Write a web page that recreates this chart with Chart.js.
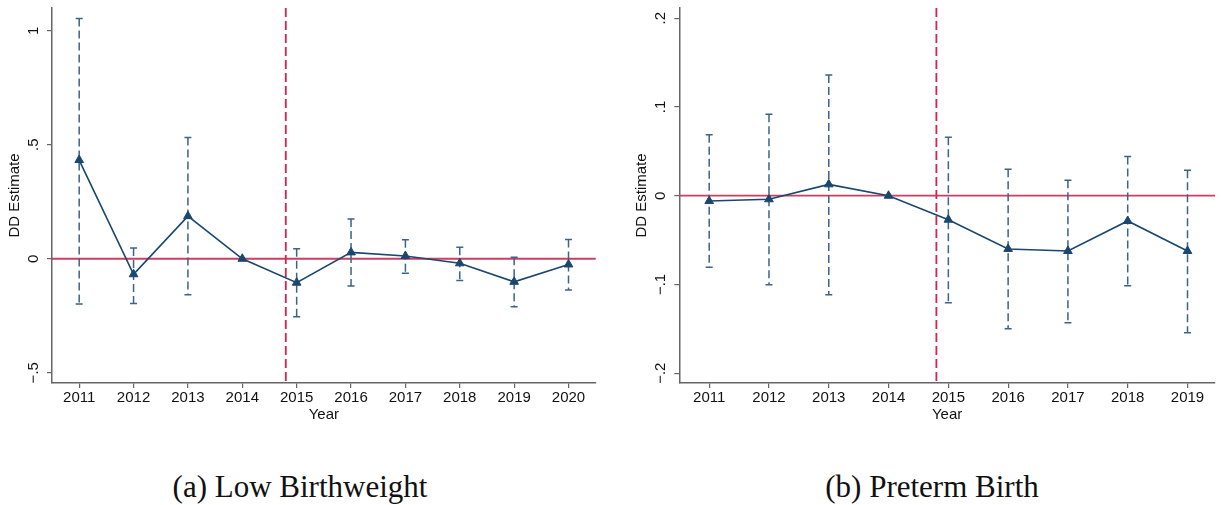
<!DOCTYPE html>
<html>
<head>
<meta charset="utf-8">
<script src="https://cdn.jsdelivr.net/npm/chart.js@4.4.1/dist/chart.umd.min.js"></script>
<style>
  body { margin: 0; background: #fff; width: 1221px; height: 505px; position: relative; overflow: hidden; }
  canvas { position: absolute; top: 0; }
  #lbw { left: 0; }
  #preterm { left: 610px; }
  .caption {
    position: absolute; top: 469px; line-height: 36px;
    font-family: "Liberation Serif", serif; font-size: 31px; color: #111;
    transform: translateX(-50%); white-space: nowrap;
  }
</style>
</head>
<body>
<canvas id="lbw" width="610" height="430"></canvas>
<canvas id="preterm" width="611" height="430"></canvas>
<div class="caption" style="left:300px">(a) Low Birthweight</div>
<div class="caption" style="left:932px">(b) Preterm Birth</div>
<script>
// event-study estimates, 2014 is the reference year (no interval)
const lbwYears = [2011, 2012, 2013, 2014, 2015, 2016, 2017, 2018, 2019, 2020];
const lbwEst = [0.433, -0.068, 0.187, 0, -0.105, 0.028, 0.012, -0.020, -0.101, -0.025];
const lbwLo  = [-0.199, -0.196, -0.158, 0, -0.254, -0.120, -0.064, -0.095, -0.210, -0.137];
const lbwHi  = [1.054, 0.047, 0.532, 0, 0.044, 0.174, 0.083, 0.050, 0.007, 0.085];
const lbwTicks = [-0.5, 0, 0.5, 1];

const ptYears = [2011, 2012, 2013, 2014, 2015, 2016, 2017, 2018, 2019];
const ptEst = [-0.006, -0.004, 0.0128, 0, -0.027, -0.060, -0.0623, -0.0285, -0.0623];
const ptLo  = [-0.0807, -0.1003, -0.1115, 0, -0.1206, -0.150, -0.143, -0.1014, -0.1544];
const ptHi  = [0.0687, 0.0917, 0.136, 0, 0.0658, 0.0297, 0.0173, 0.0443, 0.0286];
const ptTicks = [-0.2, -0.1, 0, 0.1, 0.2];

const policyYear = 2014.8;

const NAVY = '#1a476f';
const AXIS = '#666';
const FONT = '"Liberation Sans", Arial, sans-serif';

// stata-style tick text: ".5", "−.1"
function fmtTick(v) {
  if (v === 0) return '0';
  return (v < 0 ? '\u2212' : '') + String(Math.abs(v)).replace(/^0/, '');
}

function ddPlugin(years, lo, hi, ticks) {
  return {
    id: 'ddMarks',
    beforeDatasetsDraw(chart) {
      const { ctx, chartArea: a, scales: { x, y } } = chart;
      ctx.save();
      // zero line
      const y0 = y.getPixelForValue(0);
      ctx.strokeStyle = '#d03d62';
      ctx.lineWidth = 1.8;
      ctx.beginPath(); ctx.moveTo(a.left, y0); ctx.lineTo(a.right, y0); ctx.stroke();
      // policy start
      const xp = x.getPixelForValue(policyYear);
      ctx.strokeStyle = '#d4234e';
      ctx.setLineDash([9, 4]);
      ctx.beginPath(); ctx.moveTo(xp, a.top); ctx.lineTo(xp, a.bottom); ctx.stroke();
      // confidence intervals
      ctx.strokeStyle = '#3d6387';
      ctx.lineWidth = 1.5;
      years.forEach((yr, i) => {
        if (lo[i] === hi[i]) return;
        const px = x.getPixelForValue(yr);
        const pl = y.getPixelForValue(lo[i]);
        const ph = y.getPixelForValue(hi[i]);
        ctx.setLineDash([8, 4]);
        ctx.beginPath(); ctx.moveTo(px, ph); ctx.lineTo(px, pl); ctx.stroke();
        ctx.setLineDash([]);
        ctx.beginPath();
        ctx.moveTo(px - 3.5, ph); ctx.lineTo(px + 3.5, ph);
        ctx.moveTo(px - 3.5, pl); ctx.lineTo(px + 3.5, pl);
        ctx.stroke();
      });
      ctx.restore();
    },
    afterDraw(chart) {
      // rotated y tick labels
      const { ctx, chartArea: a, scales: { y } } = chart;
      ctx.save();
      ctx.fillStyle = '#111';
      ctx.font = '15px ' + FONT;
      ctx.textAlign = 'center';
      ctx.textBaseline = 'middle';
      ticks.forEach(v => {
        ctx.save();
        ctx.translate(a.left - 18, y.getPixelForValue(v));
        ctx.rotate(-Math.PI / 2);
        ctx.fillText(fmtTick(v), 0, 0);
        ctx.restore();
      });
      ctx.restore();
    }
  };
}

function ddChart(id, years, est, lo, hi, ticks, yMin, yMax, xMax, padLeft, padRight) {
  const grid = { drawOnChartArea: false, drawTicks: true, tickLength: 5, color: AXIS, lineWidth: 1.2 };
  const border = { display: true, color: AXIS, width: 1.5 };
  return new Chart(document.getElementById(id), {
    type: 'line',
    data: {
      datasets: [{
        data: years.map((yr, i) => ({ x: yr, y: est[i] })),
        borderColor: NAVY,
        borderWidth: 1.6,
        pointStyle: 'triangle',
        pointRadius: 5,
        pointBackgroundColor: NAVY,
        pointBorderColor: NAVY,
        pointBorderWidth: 1
      }]
    },
    options: {
      responsive: false,
      animation: false,
      layout: { padding: { left: padLeft, right: padRight, top: 8, bottom: 0 } },
      plugins: { legend: { display: false }, tooltip: { enabled: false } },
      scales: {
        x: {
          type: 'linear',
          min: 2010.5,
          max: xMax,
          afterBuildTicks: s => { s.ticks = years.map(v => ({ value: v })); },
          afterFit: s => { s.height = 47; },
          ticks: { callback: v => String(v), color: '#111', font: { family: FONT, size: 15 }, padding: 1, maxRotation: 0, autoSkip: false },
          grid: grid,
          border: border,
          title: { display: true, text: 'Year', color: '#111', font: { family: FONT, size: 15 }, padding: { top: 0, bottom: 6 } }
        },
        y: {
          min: yMin,
          max: yMax,
          afterBuildTicks: s => { s.ticks = ticks.map(v => ({ value: v })); },
          afterFit: s => { s.width = 52; },
          ticks: { display: false },
          grid: grid,
          border: border,
          title: { display: true, text: 'DD Estimate', color: '#111', font: { family: FONT, size: 15 }, padding: { top: 6, bottom: 0 } }
        }
      }
    },
    plugins: [ddPlugin(years, lo, hi, ticks)]
  });
}

ddChart('lbw', lbwYears, lbwEst, lbwLo, lbwHi, lbwTicks, -0.545, 1.10, 2020.5, 0, 14.3);
ddChart('preterm', ptYears, ptEst, ptLo, ptHi, ptTicks, -0.211, 0.2115, 2019.46, 17.3, 0);
</script>
</body>
</html>
